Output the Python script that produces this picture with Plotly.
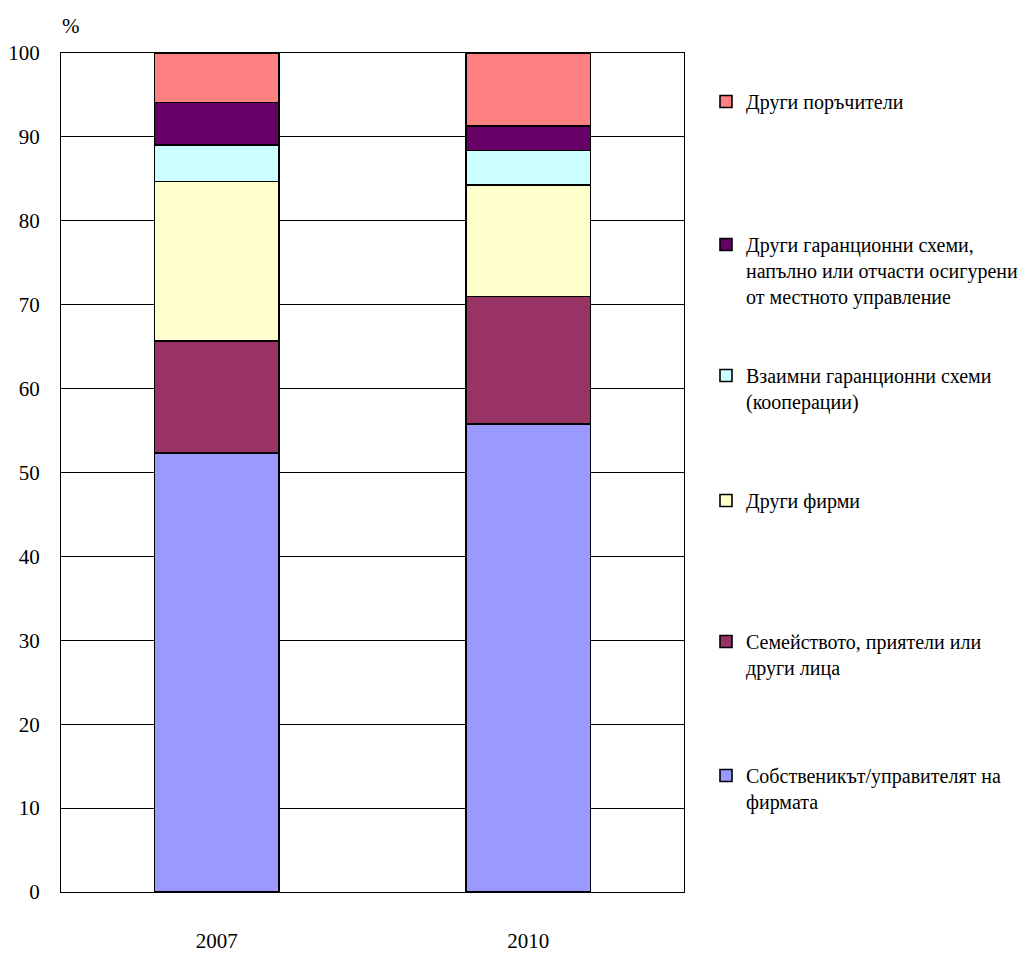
import plotly.graph_objects as go

years = ["2007", "2010"]
series_names = [
    "Собственикът/управителят на<br>фирмата",
    "Семейството, приятели или<br>други лица",
    "Други фирми",
    "Взаимни гаранционни схеми<br>(кооперации)",
    "Други гаранционни схеми,<br>напълно или отчасти осигурени<br>от местното управление",
    "Други поръчители",
]
owner = [52.3, 55.8]
family = [13.4, 15.2]
other_firms = [19.0, 13.3]
mutual = [4.3, 4.1]
other_schemes = [5.1, 2.9]
other_guarantors = [5.9, 8.7]
values = [owner, family, other_firms, mutual, other_schemes, other_guarantors]
colors = ["#9999FF", "#993366", "#FFFFCC", "#CCFFFF", "#660066", "#FF8080"]
y_ticks = list(range(0, 101, 10))

FONT = "'Liberation Serif', 'Times New Roman', Times, serif"
OFF = 8  # page body margin
W, H = 1030 - OFF, 956 - OFF
ML, MT = 61 - OFF, 53 - OFF
PLOT_R, PLOT_B = 684 - OFF, 892 - OFF
MR, MB = W - PLOT_R, H - PLOT_B
plot_h = H - MT - MB
plot_w = W - ML - MR

# target first-line centres on the page (bottom series first)
legend_targets = [776, 642, 501, 376, 245, 102]

fig = go.Figure()
layout_legends = {}
for i, (name, vals, col) in enumerate(zip(series_names, values, colors)):
    key = "legend" if i == 0 else f"legend{i+1}"
    fig.add_trace(go.Bar(
        x=years, y=vals, name=name,
        marker=dict(color=col, line=dict(color="black", width=1.6)),
        legend=key,
    ))
    c = legend_targets[i] - 12
    top_px = c - 16
    layout_legends[key] = dict(
        x=(698 - ML) / plot_w, xanchor="left",
        y=(H - MB - top_px) / plot_h, yanchor="top",
        bgcolor="rgba(0,0,0,0)", borderwidth=0,
        font=dict(family=FONT, size=20, color="black"),
        valign="top", itemclick=False, itemdoubleclick=False,
    )

fig.update_layout(
    barmode="stack",
    bargap=0.6,
    width=W, height=H,
    margin=dict(l=ML, r=MR, t=MT, b=MB, autoexpand=False),
    paper_bgcolor="white", plot_bgcolor="white",
    font=dict(family=FONT, size=20, color="black"),
    showlegend=True,
    **layout_legends,
)
fig.update_yaxes(
    range=[0, 100], tickvals=y_ticks, ticktext=[str(v) for v in y_ticks],
    showgrid=True, gridcolor="black", gridwidth=1,
    showline=True, linecolor="black", linewidth=1.2, mirror=True,
    ticks="", ticklabelstandoff=16, zeroline=False,
    tickfont=dict(family=FONT, size=21, color="black"),
)
fig.update_xaxes(
    showline=True, linecolor="black", linewidth=1.2, mirror=True,
    ticks="", ticklabelstandoff=30, showgrid=False,
    tickfont=dict(family=FONT, size=21, color="black"),
)
fig.add_annotation(
    text="%", xref="paper", yref="paper",
    x=(71 - OFF - ML) / plot_w, y=(H - MB - (26 - OFF)) / plot_h,
    showarrow=False, font=dict(family=FONT, size=21, color="black"),
    xanchor="center", yanchor="middle",
)
fig.write_html("out.html")
